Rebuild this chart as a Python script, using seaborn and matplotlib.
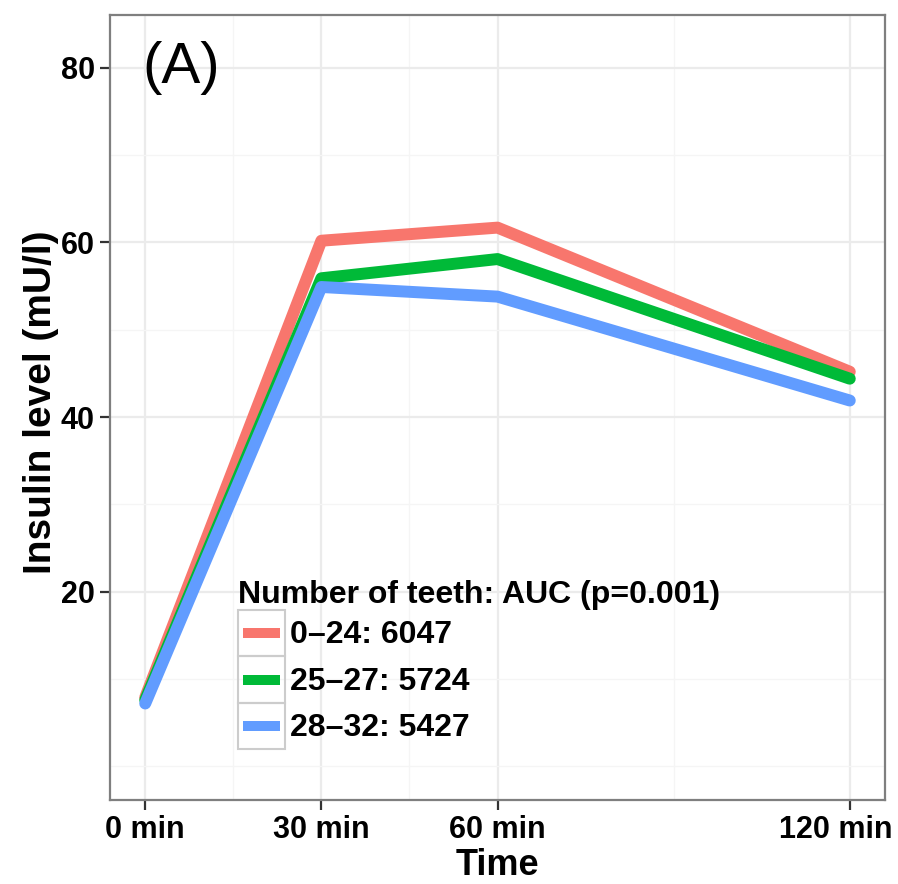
import pandas as pd
import seaborn as sns
import matplotlib.pyplot as plt
import matplotlib.transforms as mtransforms
from matplotlib.patches import Rectangle
from matplotlib.lines import Line2D
from matplotlib.legend_handler import HandlerLine2D

# data
time_min = [0, 30, 60, 120]
time_labels = ['0 min', '30 min', '60 min', '120 min']
groups = ['0–24: 6047', '25–27: 5724', '28–32: 5427']
insulin_0_24 = [7.9, 60.2, 61.7, 45.2]
insulin_25_27 = [7.6, 55.9, 58.1, 44.4]
insulin_28_32 = [7.2, 54.9, 53.8, 41.9]
colors = ['#F8766D', '#00BA38', '#619CFF']
y_ticks = [20, 40, 60, 80]

sns.set_style('white')
plt.rcParams['font.family'] = ['Liberation Sans', 'DejaVu Sans']
plt.rcParams['text.color'] = 'black'
plt.rcParams['axes.labelcolor'] = 'black'

df = pd.DataFrame({
    'Time': time_min * 3,
    'Insulin': insulin_0_24 + insulin_25_27 + insulin_28_32,
    'group': [g for g in groups for _ in time_min],
})


# legend key with a grey box around it, like ggplot
class BoxedLine(HandlerLine2D):
    def create_artists(self, legend, orig_handle, xdescent, ydescent,
                       width, height, fontsize, trans):
        arts = super().create_artists(legend, orig_handle, xdescent, ydescent,
                                      width, height, fontsize, trans)
        ymid = -ydescent + height / 2
        for a in arts:
            a.set_ydata([ymid] * len(a.get_xdata()))
        rect = Rectangle((-xdescent, -ydescent), width, height, fill=False,
                         ec='#CCCCCC', lw=1.5, transform=trans)
        return [rect] + list(arts)


fig = plt.figure(figsize=(8.98, 8.84), dpi=100)
ax = fig.add_axes([110 / 898, 1 - 800 / 884, 775 / 898, 785 / 884])

sns.lineplot(data=df, x='Time', y='Insulin', hue='group', hue_order=groups,
             palette=colors, linewidth=8.6, ax=ax, sort=False)
for ln in ax.get_lines():
    ln.set_solid_capstyle('round')
    ln.set_solid_joinstyle('round')

ax.set_xlim(-6, 126)
ax.set_ylim(-3.85, 86.05)
ax.set_xticks(time_min)
ax.set_xticklabels(time_labels, fontweight='bold')
ax.set_xticks([15, 45, 90], minor=True)
ax.set_yticks(y_ticks)
ax.set_yticklabels([str(v) for v in y_ticks], fontweight='bold')
ax.set_yticks([0, 10, 30, 50, 70], minor=True)
ax.set_axisbelow(True)
ax.grid(which='major', color='#EBEBEB', lw=1.6)
ax.grid(which='minor', color='#F5F5F5', lw=1.0)
ax.tick_params(which='major', length=7, width=1.6, color='#333333',
               labelsize=22, labelcolor='black', pad=4, left=True, bottom=True)
ax.tick_params(axis='y', pad=4)
ax.tick_params(which='minor', length=0)
for sp in ax.spines.values():
    sp.set_color('#7F7F7F')
    sp.set_linewidth(1.6)

# last tick label sits a bit left in the reference
last = ax.get_xticklabels()[-1]
last.set_transform(last.get_transform() +
                   mtransforms.ScaledTranslation(-14 / 100, 0, fig.dpi_scale_trans))

ax.set_xlabel('Time', fontsize=26, fontweight='bold', labelpad=2)
ax.set_ylabel('Insulin level (mU/l)', fontsize=28, fontweight='bold', labelpad=1)
ax.yaxis.label.set_y(0.507)

ax.text(-0.5, 80, '(A)', fontsize=42, va='center', ha='left')

ax.get_legend().remove()
handles = [Line2D([], [], color=c, lw=7.2, solid_capstyle='butt') for c in colors]
leg = ax.legend(handles, groups, title='Number of teeth: AUC (p=0.001)',
                loc='upper left', bbox_to_anchor=(238 / 898, 1 - 580 / 884),
                bbox_transform=fig.transFigure, frameon=False,
                prop={'weight': 'bold', 'size': 23},
                title_fontproperties={'weight': 'bold', 'size': 23},
                alignment='left', handlelength=1.47, handleheight=1.86,
                labelspacing=0, handletextpad=0.15, borderpad=0, borderaxespad=0,
                handler_map={Line2D: BoxedLine(numpoints=2, marker_pad=0.15)})

fig.savefig('out.png', dpi=100)
